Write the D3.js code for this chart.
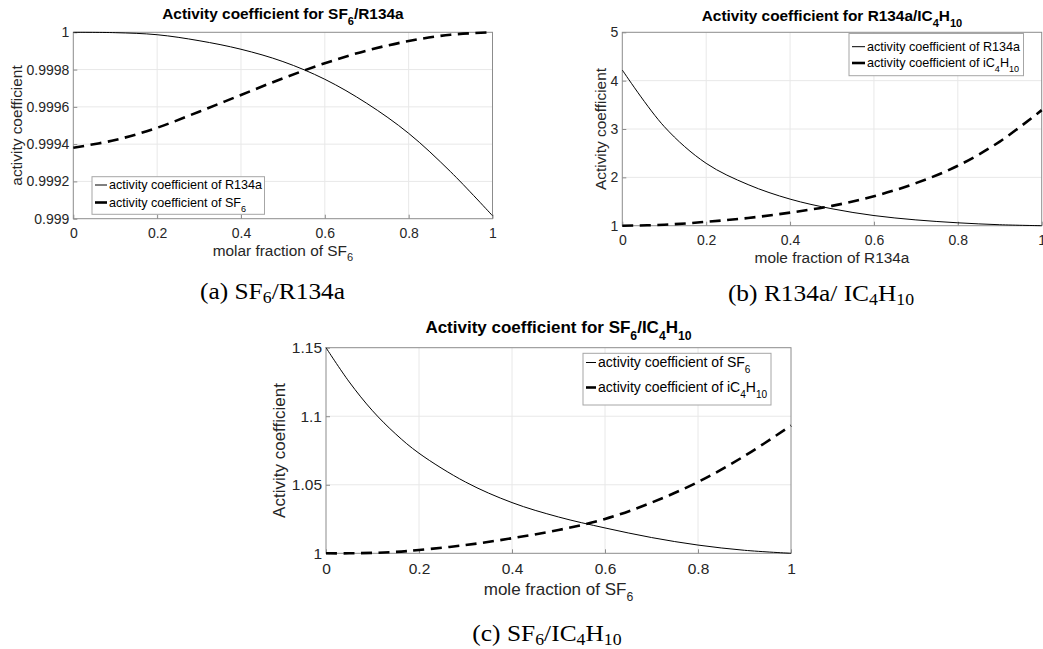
<!DOCTYPE html>
<html>
<head>
<meta charset="utf-8">
<script src="https://cdn.jsdelivr.net/npm/d3@7"></script>
<style>
  html, body { margin: 0; padding: 0; background: #fff; }
  svg { display: block; }
</style>
</head>
<body>
<svg id="fig" width="1043" height="649"></svg>
<script>
// ---- data ----
const xFrac  = [0, 0.1, 0.2, 0.3, 0.4, 0.5, 0.6, 0.7, 0.8, 0.9, 1];
const xFracC = [0, 0.05, 0.1, 0.15, 0.2, 0.3, 0.4, 0.5, 0.6, 0.7, 0.8, 0.9, 1];

// (a) SF6 / R134a
const gammaR134aA = [1.000000, 0.999998, 0.999987, 0.999955, 0.999909, 0.999843, 0.999748, 0.999619, 0.999458, 0.999252, 0.999016];
const gammaSF6A   = [0.999381, 0.999422, 0.999488, 0.999574, 0.999664, 0.999753, 0.999834, 0.999902, 0.999953, 0.999987, 1.000000];

// (b) R134a / iC4H10
const gammaR134aB = [4.22, 3.05, 2.29, 1.85, 1.55, 1.35, 1.21, 1.12, 1.06, 1.02, 1.00];
const gammaIC4B   = [1.00, 1.02, 1.08, 1.16, 1.27, 1.41, 1.61, 1.88, 2.24, 2.74, 3.39];

// (c) SF6 / iC4H10
const gammaSF6C = [1.150, 1.125, 1.104, 1.087, 1.073, 1.052, 1.037, 1.0265, 1.0185, 1.0115, 1.006, 1.0022, 1.000];
const gammaIC4C = [1.0000, 1.0000, 1.0003, 1.0010, 1.0024, 1.0060, 1.0110, 1.0170, 1.0250, 1.0370, 1.0520, 1.0710, 1.0932];

const xTicks = [0, 0.2, 0.4, 0.6, 0.8, 1];
const xTickLabels = ["0", "0.2", "0.4", "0.6", "0.8", "1"];
const yTicksA = [0.999, 0.9992, 0.9994, 0.9996, 0.9998, 1];
const yTickLabelsA = ["0.999", "0.9992", "0.9994", "0.9996", "0.9998", "1"];
const yTicksB = [1, 2, 3, 4, 5];
const yTickLabelsB = ["1", "2", "3", "4", "5"];
const yTicksC = [1, 1.05, 1.1, 1.15];
const yTickLabelsC = ["1", "1.05", "1.1", "1.15"];

const svg = d3.select("#fig");
svg.append("rect").attr("width", 1043).attr("height", 649).attr("fill", "#fff");

const SANS = "'Liberation Sans', Arial, Helvetica, sans-serif";
const SERIF = "'Liberation Serif', 'Times New Roman', serif";

// writes "SF_6" / "iC_4H_{10}" style strings as tspans with subscripts
function rich(textSel, str, size, subScale, shift) {
  const re = /_\{([^}]*)\}|_(.)|([^_]+)/g;
  let m, wasSub = false;
  while ((m = re.exec(str)) !== null) {
    if (m[3] !== undefined) {
      textSel.append("tspan").attr("dy", wasSub ? -shift : 0)
        .attr("font-size", size).text(m[3]);
      wasSub = false;
    } else {
      textSel.append("tspan").attr("dy", wasSub ? 0 : shift)
        .attr("font-size", size * subScale).text(m[1] !== undefined ? m[1] : m[2]);
      wasSub = true;
    }
  }
  return textSel;
}

function panel(cfg) {
  const g = svg.append("g");
  const x = d3.scaleLinear().domain([0, 1]).range([cfg.left, cfg.right]);
  const y = d3.scaleLinear().domain(cfg.yDomain).range([cfg.bottom, cfg.top]);
  const fs = cfg.fs;

  // grid
  g.append("g").selectAll("line").data(xTicks.slice(1, -1)).join("line")
    .attr("x1", d => x(d)).attr("x2", d => x(d))
    .attr("y1", cfg.top).attr("y2", cfg.bottom)
    .attr("stroke", "#e8e8e8").attr("stroke-width", 1);
  g.append("g").selectAll("line").data(cfg.yTicks.slice(1, -1)).join("line")
    .attr("x1", cfg.left).attr("x2", cfg.right)
    .attr("y1", d => y(d)).attr("y2", d => y(d))
    .attr("stroke", "#e8e8e8").attr("stroke-width", 1);

  // axes (ticks pointing inward)
  const ax = g.append("g").attr("transform", `translate(0,${cfg.bottom})`)
    .call(d3.axisBottom(x).tickValues(xTicks)
      .tickFormat((d, i) => xTickLabels[i])
      .tickSizeInner(-4).tickSizeOuter(0).tickPadding(cfg.xPad));
  const ay = g.append("g").attr("transform", `translate(${cfg.left},0)`)
    .call(d3.axisLeft(y).tickValues(cfg.yTicks)
      .tickFormat((d, i) => cfg.yTickLabels[i])
      .tickSizeInner(-4).tickSizeOuter(0).tickPadding(4));
  [ax, ay].forEach(a => {
    a.select(".domain").remove();
    a.selectAll(".tick line").attr("stroke", "#8c8c8c");
    a.selectAll(".tick text").attr("fill", "#262626")
      .attr("font-family", SANS).attr("font-size", fs.tick);
  });

  // box
  g.append("rect").attr("x", cfg.left).attr("y", cfg.top)
    .attr("width", cfg.right - cfg.left).attr("height", cfg.bottom - cfg.top)
    .attr("fill", "none").attr("stroke", "#8c8c8c").attr("stroke-width", 1);

  // curves
  const line = d3.line().x(d => x(d[0])).y(d => y(d[1])).curve(d3.curveCatmullRom.alpha(0.5));
  g.append("path").datum(d3.zip(cfg.xs, cfg.solid)).attr("d", line)
    .attr("fill", "none").attr("stroke", "#000").attr("stroke-width", 1);
  g.append("path").datum(d3.zip(cfg.xs, cfg.dashed)).attr("d", line)
    .attr("fill", "none").attr("stroke", "#000").attr("stroke-width", 2.6)
    .attr("stroke-dasharray", "11,6.5");

  // title
  rich(g.append("text").attr("x", (cfg.left + cfg.right) / 2).attr("y", cfg.titleY)
    .attr("text-anchor", "middle").attr("font-family", SANS)
    .attr("font-weight", "bold").attr("fill", "#000"),
    cfg.title, fs.title, 0.72, fs.title * 0.38);

  // axis labels
  rich(g.append("text").attr("x", (cfg.left + cfg.right) / 2).attr("y", cfg.xLabelY)
    .attr("text-anchor", "middle").attr("font-family", SANS).attr("fill", "#262626"),
    cfg.xLabel, fs.label, 0.72, fs.label * 0.38);
  g.append("text")
    .attr("transform", `translate(${cfg.yLabelX},${(cfg.top + cfg.bottom) / 2}) rotate(-90)`)
    .attr("text-anchor", "middle").attr("font-family", SANS)
    .attr("font-size", fs.label).attr("fill", "#262626").text(cfg.yLabel);

  // legend
  const L = cfg.legend;
  g.append("rect").attr("x", L.x0).attr("y", L.y0)
    .attr("width", L.x1 - L.x0).attr("height", L.y1 - L.y0)
    .attr("fill", "#fff").attr("stroke", "#a6a6a6").attr("stroke-width", 1);
  L.rows.forEach((ry, i) => {
    g.append("line").attr("x1", L.s0).attr("x2", L.s1).attr("y1", ry).attr("y2", ry)
      .attr("stroke", "#000").attr("stroke-width", i === 0 ? 1 : 2.6);
    rich(g.append("text").attr("x", L.tx).attr("y", ry + fs.legend * 0.35)
      .attr("font-family", SANS).attr("fill", "#000"),
      L.labels[i], fs.legend, 0.72, fs.legend * 0.38);
  });

  // caption
  rich(svg.append("text")
    .attr("transform", `translate(${cfg.capX},${cfg.capY}) scale(1.13,1)`)
    .attr("text-anchor", "middle").attr("font-family", SERIF).attr("fill", "#000"),
    cfg.caption, 22.5, 0.7, 4);
}

panel({
  left: 73.3, right: 492.5, top: 32.3, bottom: 218.7,
  yDomain: [0.999, 1], yTicks: yTicksA, yTickLabels: yTickLabelsA,
  xs: xFrac, solid: gammaR134aA, dashed: gammaSF6A,
  fs: { tick: 14, label: 15.4, title: 15.4, legend: 12.6 },
  xPad: 9, titleY: 19.3, xLabelY: 255.5, yLabelX: 22,
  title: "Activity coefficient for  SF_6/R134a",
  xLabel: "molar fraction of SF_6", yLabel: "activity coefficient",
  legend: { x0: 92, x1: 264.5, y0: 176.7, y1: 214.3, s0: 95, s1: 107, tx: 109,
            rows: [185, 202.5],
            labels: ["activity coefficient of R134a", "activity coefficient of SF_6"] },
  caption: "(a) SF_6/R134a", capX: 272.5, capY: 298.5
});

panel({
  left: 622.3, right: 1041.7, top: 32.3, bottom: 225.7,
  yDomain: [1, 5], yTicks: yTicksB, yTickLabels: yTickLabelsB,
  xs: xFrac, solid: gammaR134aB, dashed: gammaIC4B,
  fs: { tick: 14, label: 15.4, title: 15.4, legend: 12.6 },
  xPad: 9, titleY: 20.7, xLabelY: 263.3, yLabelX: 606,
  title: "Activity coefficient for R134a/IC_4H_{10}",
  xLabel: "mole fraction of R134a", yLabel: "Activity coefficient",
  legend: { x0: 849, x1: 1023.5, y0: 33.5, y1: 75.7, s0: 852, s1: 865, tx: 867,
            rows: [46.7, 63],
            labels: ["activity coefficient of R134a", "activity coefficient of iC_4H_{10}"] },
  caption: "(b) R134a/ IC_4H_{10}", capX: 821, capY: 300.5
});

panel({
  left: 326, right: 791, top: 347.7, bottom: 553.3,
  yDomain: [1, 1.15], yTicks: yTicksC, yTickLabels: yTickLabelsC,
  xs: xFracC, solid: gammaSF6C, dashed: gammaIC4C,
  fs: { tick: 15.5, label: 17, title: 17, legend: 14 },
  xPad: 9.5, titleY: 333.3, xLabelY: 595, yLabelX: 285,
  title: "Activity coefficient for SF_6/IC_4H_{10}",
  xLabel: "mole fraction of SF_6", yLabel: "Activity coefficient",
  legend: { x0: 583, x1: 771, y0: 353.3, y1: 405, s0: 586, s1: 596, tx: 598,
            rows: [362.5, 387.5],
            labels: ["activity coefficient of SF_6", "activity coefficient of iC_4H_{10}"] },
  caption: "(c) SF_6/IC_4H_{10}", capX: 547, capY: 641
});
</script>
</body>
</html>
